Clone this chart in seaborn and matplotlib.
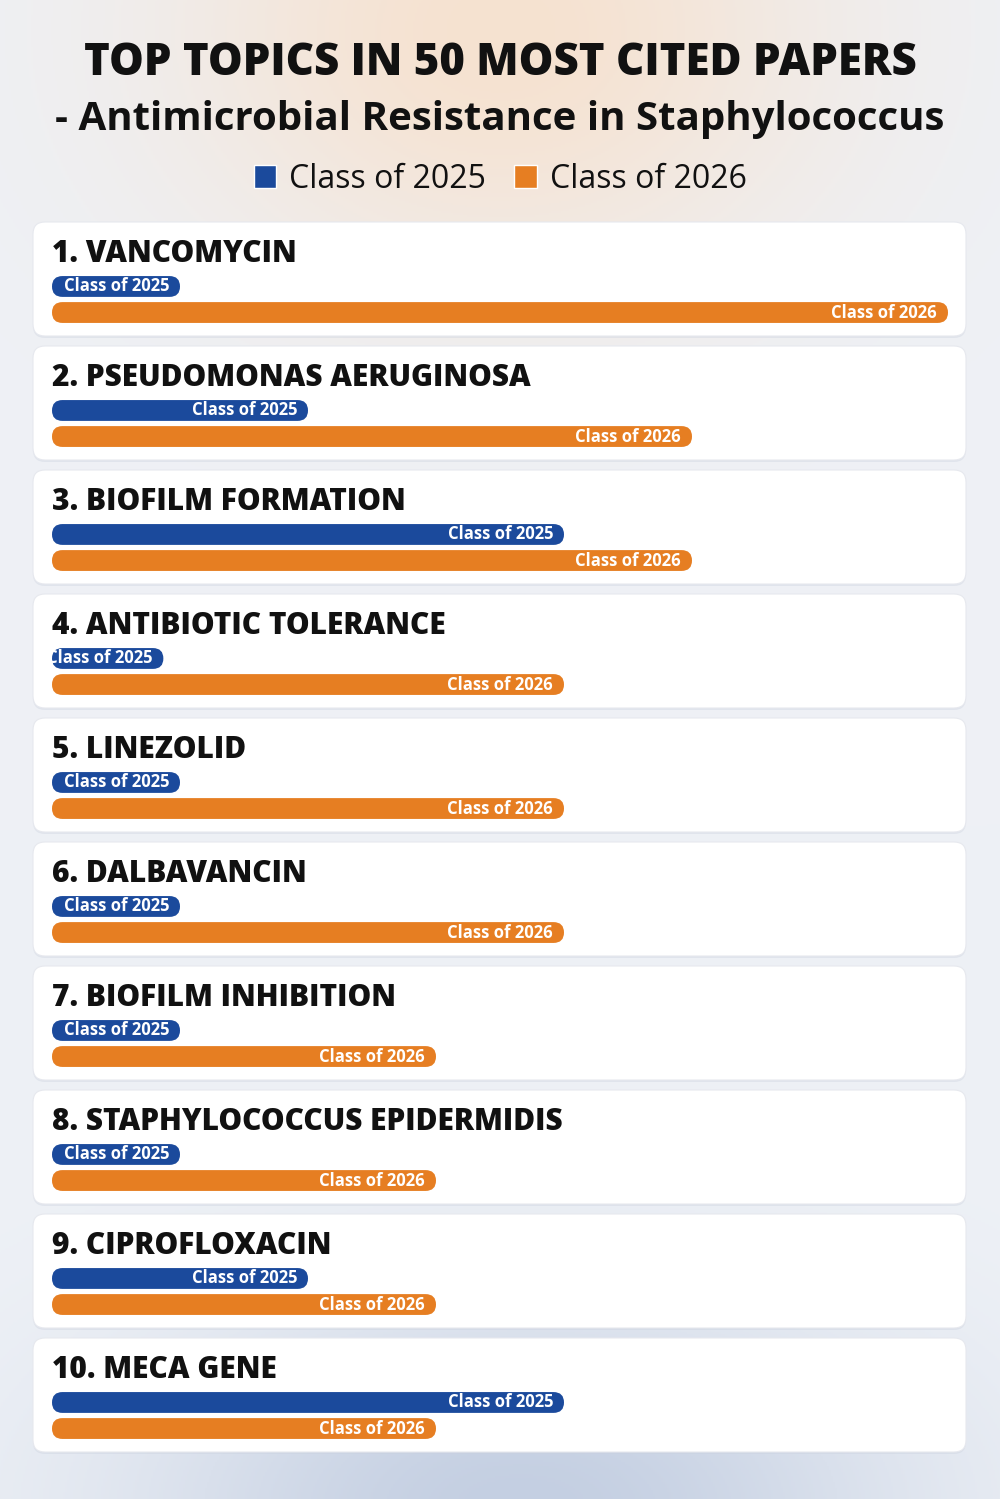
import matplotlib
matplotlib.use("Agg")
import matplotlib.pyplot as plt
import numpy as np
import pandas as pd
import seaborn as sns
from matplotlib.patches import FancyBboxPatch

# values (paper counts per topic)
topics = ['VANCOMYCIN', 'PSEUDOMONAS AERUGINOSA', 'BIOFILM FORMATION', 'ANTIBIOTIC TOLERANCE',
          'LINEZOLID', 'DALBAVANCIN', 'BIOFILM INHIBITION', 'STAPHYLOCOCCUS EPIDERMIDIS',
          'CIPROFLOXACIN', 'MECA GENE']
class_2025 = [1, 2, 4, 0, 1, 1, 1, 1, 2, 4]
class_2026 = [7, 5, 5, 4, 4, 4, 3, 3, 3, 3]
cohorts = ['Class of 2025', 'Class of 2026']

BLUE = '#1B4A9C'
ORANGE = '#E67E22'
INK = '#111111'
TITLE_FONT = ['Open Sans', 'DejaVu Sans']
BODY_FONT = ['Open Sans', 'DejaVu Sans']

df = pd.DataFrame({
    'topic': topics * 2,
    'cohort': [cohorts[0]] * len(topics) + [cohorts[1]] * len(topics),
    'count': class_2025 + class_2026,
})

sns.set_theme(style='white')
plt.rcParams['font.family'] = BODY_FONT

W, H = 1000, 1499
fig = plt.figure(figsize=(W / 100, H / 100), dpi=100)

# background: pale blue-grey with a peach glow on top and a blue haze at the bottom
bg = fig.add_axes([0, 0, 1, 1], zorder=0)
yy, xx = np.mgrid[0:H:2, 0:W:2]
base = np.array([238, 241, 246], float)
peach = np.array([246, 226, 208], float)
haze = np.array([196, 207, 226], float)
g_top = np.exp(-(((xx - 500) / 330) ** 2 + ((yy - 30) / 260) ** 2))
g_bot = np.exp(-(((xx - 520) / 380) ** 2 + ((yy - 1510) / 200) ** 2))
img = base[None, None, :] * np.ones(xx.shape)[..., None]
img = img + (peach - base) * g_top[..., None] + (haze - base) * g_bot[..., None]
bg.imshow(np.clip(img, 0, 255).astype(np.uint8), extent=(0, W, H, 0), aspect='auto')
bg.set_xlim(0, W)
bg.set_ylim(H, 0)
bg.axis('off')

# white cards, one per topic
card_top, card_step, card_h = 222, 124, 114
for i in range(len(topics)):
    y0 = card_top + i * card_step
    bg.add_patch(FancyBboxPatch((33, y0 + 2), 933, card_h, boxstyle='round,pad=0,rounding_size=12',
                                fc='#c8cfdc', ec='none', alpha=0.35, zorder=2))
    bg.add_patch(FancyBboxPatch((33, y0), 933, card_h, boxstyle='round,pad=0,rounding_size=12',
                                fc='white', ec='#e6e8ee', lw=0.8, zorder=3))

# bars: one value unit = 128 px, each topic row = 124 px
px_x, px_y = 128, 124
ax = fig.add_axes([33 / W, 1 - 1462 / H, 933 / W, 1240 / H], zorder=1)
ax.patch.set_alpha(0)
sns.barplot(data=df, y='topic', x='count', hue='cohort', order=topics, hue_order=cohorts,
            palette=[BLUE, ORANGE], saturation=1, orient='h', width=0.42, gap=0.2, ax=ax)
ax.set_xlim(-19 / px_x, 914 / px_x)
ax.set_ylim(9.375, -0.625)
ax.axis('off')

MIN_PILL = 0.87  # a zero bar still shows its label pill
for container, label in zip(ax.containers, cohorts):
    for rect in container:
        x0, y, w, h = rect.get_x(), rect.get_y(), rect.get_width(), rect.get_height()
        rect.set_visible(False)
        end = max(w, MIN_PILL)
        r = (h / 2) * px_y / px_x
        pill = FancyBboxPatch((x0, y), end, h, boxstyle=f'round,pad=0,rounding_size={r}',
                              mutation_aspect=px_x / px_y, fc=rect.get_facecolor(), ec='none', zorder=4)
        ax.add_patch(pill)
        t = ax.text(end - 11 / px_x, y + h / 2, label, ha='right', va='center', color='white',
                    fontsize=12, fontweight='bold', family=BODY_FONT, zorder=5)
        t.set_clip_path(pill)

for i, topic in enumerate(topics):
    ax.text(0, i - 0.625 + 40 / px_y, f'{i + 1}. {topic}', ha='left', va='baseline',
            fontsize=21.5, fontweight='heavy', color=INK, family=TITLE_FONT, zorder=5)

sns.move_legend(ax, 'center', bbox_to_anchor=(0.5, 1 - 179 / H), bbox_transform=fig.transFigure,
                ncol=2, frameon=False, title=None, fontsize=23, handlelength=0.7, handleheight=0.7,
                handletextpad=0.4, columnspacing=0.9)
for txt in ax.get_legend().get_texts():
    txt.set_fontweight('medium')
    txt.set_color(INK)

fig.text(0.5, 1 - 75 / H, 'TOP TOPICS IN 50 MOST CITED PAPERS', ha='center', va='baseline',
         fontsize=31.5, fontweight='heavy', color=INK, family=TITLE_FONT)
fig.text(0.5, 1 - 130 / H, '- Antimicrobial Resistance in Staphylococcus', ha='center', va='baseline',
         fontsize=29, fontweight='bold', color=INK, family=TITLE_FONT)

fig.savefig('out.png', dpi=100)
